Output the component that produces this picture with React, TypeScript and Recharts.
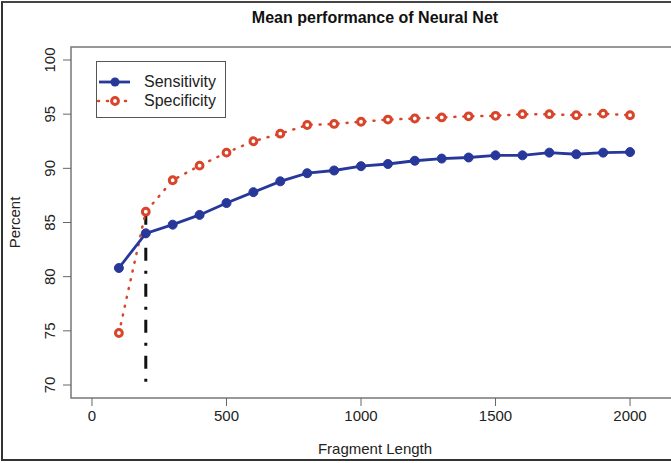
import React from 'react';
import { LineChart, Line, XAxis, YAxis, ReferenceLine, ReferenceArea } from 'recharts';

const fragmentLengths = [100, 200, 300, 400, 500, 600, 700, 800, 900, 1000, 1100, 1200, 1300, 1400, 1500, 1600, 1700, 1800, 1900, 2000];
const sensitivity = [80.8, 84.0, 84.8, 85.7, 86.8, 87.8, 88.8, 89.55, 89.8, 90.2, 90.4, 90.7, 90.9, 91.0, 91.2, 91.2, 91.45, 91.3, 91.45, 91.5];
const specificity = [74.8, 86.0, 88.9, 90.25, 91.45, 92.5, 93.2, 94.0, 94.1, 94.3, 94.5, 94.6, 94.7, 94.8, 94.85, 95.0, 95.0, 94.9, 95.05, 94.9];
const xTicks = [0, 500, 1000, 1500, 2000];
const yTicks = [70, 75, 80, 85, 90, 95, 100];
// cut-off marker at fragment length 200
const cutoffX = 200;
const cutoffFrom = 86.0;
const cutoffTo = 70;

const BLUE = '#27389a';
const RED = '#d8452b';
const FONT = '"Liberation Sans", Arial, Helvetica, sans-serif';

const data = fragmentLengths.map((x, i) => ({ x, sens: sensitivity[i], spec: specificity[i] }));

const YTick = ({ x, y, payload }: any) => (
  <text
    x={x - 6}
    y={y}
    transform={`rotate(-90, ${x - 6}, ${y})`}
    textAnchor="middle"
    fontSize={15}
    fontFamily={FONT}
    fill="#222"
  >
    {payload.value}
  </text>
);

const XTick = ({ x, y, payload }: any) => (
  <text x={x} y={y + 13} textAnchor="middle" fontSize={15} fontFamily={FONT} fill="#222">
    {payload.value}
  </text>
);

const YTitle = ({ viewBox }: any) => {
  const cy = viewBox.y + viewBox.height / 2;
  return (
    <text x={20} y={cy} transform={`rotate(-90, 20, ${cy})`} textAnchor="middle" fontSize={15} fontFamily={FONT} fill="#222">
      Percent
    </text>
  );
};

const XTitle = ({ viewBox }: any) => (
  <text x={viewBox.x + viewBox.width / 2} y={454} textAnchor="middle" fontSize={15} fontFamily={FONT} fill="#222">
    Fragment Length
  </text>
);

const LegendBox = () => (
  <div style={{ position: 'absolute', left: 96, top: 61, border: '1px solid #555', width: 130, height: 57, boxSizing: 'border-box', background: '#fff' }}>
    <svg width={128} height={55} style={{ position: 'absolute', left: 0, top: 0 }}>
      <line x1={2} x2={33} y1={20} y2={20} stroke={BLUE} strokeWidth={2.8} />
      <circle cx={18} cy={20} r={4.5} fill={BLUE} />
      <line x1={1} x2={33} y1={39} y2={39} stroke={RED} strokeWidth={2.5} strokeDasharray="1 8" strokeLinecap="round" />
      <circle cx={18} cy={39} r={3.4} fill="#fff" stroke={RED} strokeWidth={3} />
      <text x={47} y={25} fontSize={16} fontFamily={FONT} fill="#222">Sensitivity</text>
      <text x={47} y={44} fontSize={16} fontFamily={FONT} fill="#222">Specificity</text>
    </svg>
  </div>
);

const App = () => {
  return (
    <div style={{ position: 'absolute', left: 0, top: 0, width: 671, height: 463, overflow: 'hidden', background: '#fff' }}>
      <div style={{ position: 'absolute', left: 1, top: 1, width: 690, height: 460, borderLeft: '2px solid #333', borderTop: '2px solid #444', borderBottom: '2px solid #333', boxSizing: 'border-box' }} />
      <div style={{ position: 'absolute', left: 0, top: 9, width: 750, textAlign: 'center', fontFamily: FONT, fontWeight: 'bold', fontSize: 16, color: '#111' }}>
        Mean performance of Neural Net
      </div>
      <div style={{ position: 'absolute', left: 0, top: 0 }}>
        <LineChart width={690} height={463} data={data} margin={{ top: 47, right: 11, bottom: 5, left: 11 }}>
          <ReferenceArea x1={-78} x2={2182} y1={68.8} y2={101.2} fill="none" stroke="#777" strokeWidth={1.5} ifOverflow="visible" />
          <XAxis
            dataKey="x"
            type="number"
            domain={[-78, 2182]}
            ticks={xTicks}
            allowDataOverflow
            axisLine={false}
            tickSize={8}
            tickLine={{ stroke: '#666' }}
            tick={<XTick />}
            height={60}
            label={<XTitle />}
          />
          <YAxis
            type="number"
            domain={[68.8, 101.2]}
            ticks={yTicks}
            allowDataOverflow
            axisLine={false}
            tickSize={8}
            tickLine={{ stroke: '#666' }}
            tick={<YTick />}
            width={60}
            label={<YTitle />}
          />
          <ReferenceLine
            segment={[{ x: cutoffX, y: cutoffFrom }, { x: cutoffX, y: cutoffTo }]}
            stroke="#111"
            strokeWidth={3}
            strokeDasharray="13 10 3 10"
          />
          <Line
            dataKey="spec"
            name="Specificity"
            stroke={RED}
            strokeWidth={2.5}
            strokeDasharray="1 8"
            strokeLinecap="round"
            dot={{ r: 3.4, fill: '#fff', stroke: RED, strokeWidth: 3, strokeDasharray: '' }}
            isAnimationActive={false}
          />
          <Line
            dataKey="sens"
            name="Sensitivity"
            stroke={BLUE}
            strokeWidth={2.8}
            dot={{ r: 4.5, fill: BLUE, stroke: BLUE, strokeWidth: 1 }}
            isAnimationActive={false}
          />
        </LineChart>
      </div>
      <LegendBox />
    </div>
  );
};

export default App;
